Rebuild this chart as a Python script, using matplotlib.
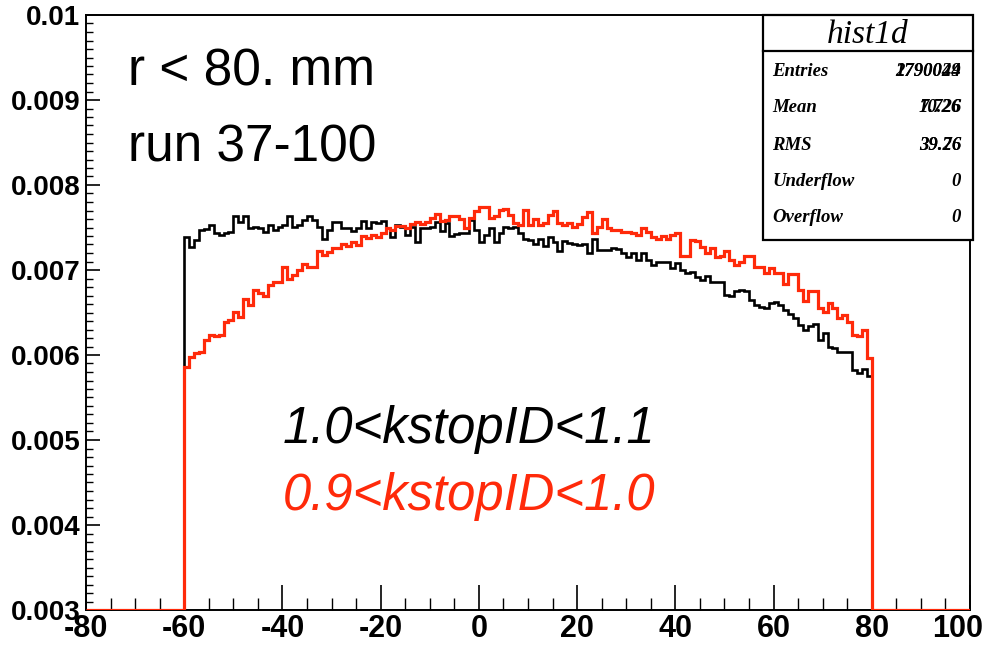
import matplotlib
matplotlib.use("Agg")
import matplotlib.pyplot as plt
import numpy as np
from matplotlib.patches import Rectangle
from matplotlib.lines import Line2D
from matplotlib.ticker import MultipleLocator, FuncFormatter
from matplotlib.transforms import ScaledTranslation

plt.rcParams["axes.unicode_minus"] = False

# bins of width 1 from -60 to 80
bin_lo, bin_hi = -60, 80

black_vals = [
    # -60 .. -38
    0.00739, 0.00727, 0.00735, 0.00747, 0.00748, 0.00753, 0.00743, 0.00741, 0.00743, 0.00745,
    0.00763, 0.00757, 0.00763, 0.00749, 0.00751, 0.00749, 0.00745, 0.00753, 0.00747, 0.00751,
    0.00753, 0.00763, 0.00751,
    # -37 .. -15
    0.00753, 0.00759, 0.00764, 0.00759, 0.00751, 0.00737, 0.00747, 0.00757, 0.00757, 0.00749,
    0.00750, 0.00746, 0.00749, 0.00758, 0.00749, 0.00757, 0.00755, 0.00758, 0.00750, 0.00739,
    0.00753, 0.00751, 0.00741,
    # -14 .. 8
    0.00751, 0.00733, 0.00749, 0.00750, 0.00751, 0.00757, 0.00746, 0.00755, 0.00740, 0.00742,
    0.00743, 0.00743, 0.00759, 0.00747, 0.00733, 0.00741, 0.00749, 0.00733, 0.00744, 0.00751,
    0.00749, 0.00751, 0.00744,
    # 9 .. 32
    0.00737, 0.00735, 0.00731, 0.00736, 0.00728, 0.00739, 0.00733, 0.00722, 0.00734, 0.00732,
    0.00731, 0.00729, 0.00731, 0.00720, 0.00736, 0.00724, 0.00724, 0.00723, 0.00726, 0.00725,
    0.00720, 0.00715, 0.00720, 0.00712,
    # 33 .. 55
    0.00720, 0.00712, 0.00706, 0.00709, 0.00710, 0.00709, 0.00702, 0.00708, 0.00700, 0.00696,
    0.00698, 0.00692, 0.00688, 0.00693, 0.00686, 0.00686, 0.00686, 0.00671, 0.00669, 0.00675,
    0.00676, 0.00675, 0.00665,
    # 56 .. 79
    0.00659, 0.00657, 0.00655, 0.00661, 0.00662, 0.00659, 0.00653, 0.00648, 0.00643, 0.00635,
    0.00629, 0.00634, 0.00637, 0.00618, 0.00626, 0.00610, 0.00608, 0.00603, 0.00604, 0.00604,
    0.00582, 0.00579, 0.00584, 0.00575,
]

red_vals = [
    # -60 .. -38
    0.00586, 0.00598, 0.00602, 0.00604, 0.00618, 0.00624, 0.00622, 0.00624, 0.00639, 0.00641,
    0.00651, 0.00645, 0.00666, 0.00659, 0.00676, 0.00673, 0.00669, 0.00682, 0.00686, 0.00686,
    0.00703, 0.00690, 0.00694,
    # -37 .. -15
    0.00700, 0.00707, 0.00704, 0.00704, 0.00722, 0.00718, 0.00721, 0.00726, 0.00726, 0.00731,
    0.00728, 0.00733, 0.00729, 0.00740, 0.00738, 0.00741, 0.00739, 0.00744, 0.00749, 0.00747,
    0.00752, 0.00752, 0.00749,
    # -14 .. 8
    0.00754, 0.00756, 0.00754, 0.00757, 0.00761, 0.00766, 0.00758, 0.00759, 0.00764, 0.00763,
    0.00760, 0.00749, 0.00761, 0.00769, 0.00774, 0.00774, 0.00761, 0.00764, 0.00771, 0.00772,
    0.00765, 0.00755, 0.00753,
    # 9 .. 32
    0.00771, 0.00753, 0.00760, 0.00753, 0.00755, 0.00765, 0.00770, 0.00755, 0.00753, 0.00755,
    0.00751, 0.00754, 0.00762, 0.00768, 0.00743, 0.00751, 0.00760, 0.00749, 0.00747, 0.00747,
    0.00745, 0.00745, 0.00743, 0.00741,
    # 33 .. 55
    0.00749, 0.00745, 0.00739, 0.00737, 0.00740, 0.00737, 0.00741, 0.00743, 0.00716, 0.00716,
    0.00735, 0.00734, 0.00727, 0.00720, 0.00726, 0.00715, 0.00716, 0.00722, 0.00712, 0.00706,
    0.00710, 0.00716, 0.00716,
    # 56 .. 79
    0.00704, 0.00704, 0.00697, 0.00702, 0.00696, 0.00697, 0.00684, 0.00695, 0.00695, 0.00677,
    0.00663, 0.00675, 0.00675, 0.00655, 0.00651, 0.00661, 0.00655, 0.00643, 0.00647, 0.00639,
    0.00624, 0.00622, 0.00629, 0.00596,
]

x_ticks = [-80, -60, -40, -20, 0, 20, 40, 60, 80, 100]
x_ticklabels = ["-80", "-60", "-40", "-20", "0", "20", "40", "60", "80", "100"]

stat_labels = ["Entries", "Mean", "RMS", "Underflow", "Overflow"]
stat_vals_a = ["2790044", "10.26", "39.26", "0", "0"]
stat_vals_b = ["1790029", "7.726", "39.76", "0", "0"]

XMIN, XMAX = -80, 100
YMIN, YMAX = 0.003, 0.01
RED = "#ff2a0a"

# full-range histogram (empty bins outside -60..80), floored at frame bottom like ROOT
edges = np.arange(XMIN, XMAX + 1, 1)


def full_hist(vals):
    h = np.zeros(len(edges) - 1)
    h[bin_lo - XMIN:bin_hi - XMIN] = vals
    return np.maximum(h, YMIN)


def ylab(v, pos):
    s = f"{v:.3f}"
    return s.rstrip("0") if abs(v - 0.01) < 1e-9 else s


fig = plt.figure(figsize=(9.91, 6.45), dpi=100)
ax = fig.add_axes([86 / 991, 1 - 610 / 645, (970 - 86) / 991, (610 - 15) / 645])

ax.stairs(full_hist(black_vals), edges, baseline=YMIN, color="black", lw=1.9, zorder=3)
ax.stairs(full_hist(red_vals), edges, baseline=YMIN, color=RED, lw=2.3, zorder=4)

ax.set_xlim(XMIN, XMAX)
ax.set_ylim(YMIN, YMAX)
ax.set_xticks(x_ticks, x_ticklabels)
ax.xaxis.set_minor_locator(MultipleLocator(5))
ax.yaxis.set_major_locator(MultipleLocator(0.001))
ax.yaxis.set_minor_locator(MultipleLocator(0.0001))
ax.yaxis.set_major_formatter(FuncFormatter(ylab))

ax.tick_params(axis="x", which="major", direction="in", length=18, width=1.2, pad=3,
               top=False, labelsize=22)
ax.tick_params(axis="x", which="minor", direction="in", length=9, width=1.0, top=False)
ax.tick_params(axis="y", which="major", direction="in", length=10, width=1.2, pad=4,
               right=False, labelsize=20)
ax.tick_params(axis="y", which="minor", direction="in", length=5, width=1.0, right=False)
for lab in ax.get_xticklabels() + ax.get_yticklabels():
    lab.set_fontfamily("Liberation Sans")
    lab.set_fontweight("bold")
# last x label pulled inside the canvas, as in the original
last = ax.get_xticklabels()[-1]
last.set_transform(last.get_transform() + ScaledTranslation(-0.12, 0, fig.dpi_scale_trans))
for sp in ax.spines.values():
    sp.set_linewidth(1.4)

ax.text(0.047, 0.905, "r < 80. mm", transform=ax.transAxes, fontsize=37,
        family="Liberation Sans", va="center", ha="left")
ax.text(0.047, 0.776, "run 37-100", transform=ax.transAxes, fontsize=37,
        family="Liberation Sans", va="center", ha="left")
ax.text(0.223, 0.303, "1.0<kstopID<1.1", transform=ax.transAxes, fontsize=36.5,
        family="Liberation Sans", style="italic", color="black", va="center", ha="left")
ax.text(0.223, 0.190, "0.9<kstopID<1.0", transform=ax.transAxes, fontsize=36.5,
        family="Liberation Sans", style="italic", color=RED, va="center", ha="left")

# stats box in figure pixel coordinates
W, H = 991, 645
bx0, bx1, by0, by1 = 763, 973, 15, 240
fig.add_artist(Rectangle((bx0 / W, 1 - by1 / H), (bx1 - bx0) / W, (by1 - by0) / H,
                         transform=fig.transFigure, facecolor="white", edgecolor="black",
                         lw=1.6, zorder=10))
fig.add_artist(Line2D([bx0 / W, bx1 / W], [1 - 51 / H, 1 - 51 / H], transform=fig.transFigure,
                      color="black", lw=1.6, zorder=11))
fig.text((bx0 + bx1) / 2 / W, 1 - 35 / H, "hist1d", family="Liberation Serif", style="italic",
         fontsize=24, ha="center", va="center", zorder=12)
row_y = [72, 108, 146, 181, 218]
for lab, va_, vb_, yy in zip(stat_labels, stat_vals_a, stat_vals_b, row_y):
    fig.text(772 / W, 1 - yy / H, lab, family="Liberation Serif", style="italic",
             weight="bold", fontsize=13.5, ha="left", va="center", zorder=12)
    fig.text(961 / W, 1 - yy / H, va_, family="Liberation Serif", style="italic",
             weight="bold", fontsize=13.5, ha="right", va="center", zorder=12)
    if vb_ != va_:
        fig.text(961 / W, 1 - yy / H, vb_, family="Liberation Serif", style="italic",
                 weight="bold", fontsize=13.5, ha="right", va="center", zorder=12)

fig.savefig("out.png", dpi=100)
